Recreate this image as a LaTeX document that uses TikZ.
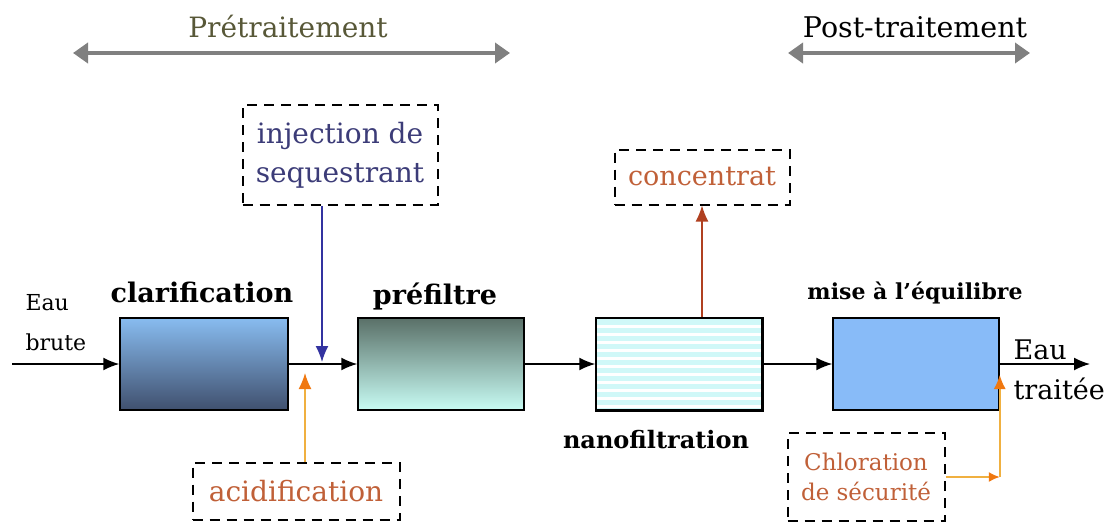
\documentclass[tikz,border=0pt]{standalone}
\usepackage{fontspec}
\setmainfont{DejaVu Serif}
\usetikzlibrary{arrows.meta}
\definecolor{spangray}{RGB}{128,128,128}
\definecolor{oliveink}{RGB}{88,88,56}
\definecolor{navyink}{RGB}{60,60,120}
\definecolor{navyline}{RGB}{51,51,160}
\definecolor{rustink}{RGB}{192,96,56}
\definecolor{orangeline}{RGB}{240,176,64}
\definecolor{orangetip}{RGB}{240,120,16}
\definecolor{redline}{RGB}{176,64,32}
\definecolor{clartop}{RGB}{136,188,240}
\definecolor{clarbot}{RGB}{64,80,110}
\definecolor{preftop}{RGB}{90,112,104}
\definecolor{prefbot}{RGB}{200,252,244}
\definecolor{nanofill}{RGB}{208,248,248}
\definecolor{misefill}{RGB}{136,187,248}

\begin{document}
\begin{tikzpicture}[x=1pt,y=-1pt]
  \tikzstyle{box}=[draw,line width=1.5pt,minimum width=166pt,minimum height=92pt,inner sep=0pt]
  \tikzstyle{flow}=[draw,line width=1.5pt,-{Latex[length=16pt,width=13pt]},black]
  \tikzstyle{title}=[font=\fontsize{27}{30}\selectfont\bfseries]
  \tikzstyle{note}=[draw=black,dash pattern=on 10pt off 7pt,line width=2pt,align=center,inner sep=0pt]
  \tikzstyle{span}=[draw,line width=4pt,spangray,{Triangle[length=15pt,width=20pt]}-{Triangle[length=15pt,width=20pt]}]
  \useasboundingbox (0,0) rectangle (1108,522);

  % phases
  \coordinate (pre1) at (73,53);
  \coordinate (pre2) at (510,53);
  \coordinate (post1) at (788,53);
  \coordinate (post2) at (1030,53);
  \draw[span] (pre1) -- (pre2);
  \draw[span] (post1) -- (post2);
  \node[oliveink,font=\fontsize{28}{30}\selectfont] (tpre) at (288,27) {Prétraitement};
  \node[font=\fontsize{28.5}{30}\selectfont] (tpost) at (915,27) {Post-traitement};

  % process boxes
  \node[box,top color=clartop,bottom color=clarbot,minimum width=168pt] (clar) at (204,364) {};
  \node[box,top color=preftop,bottom color=prefbot] (pref) at (441,364) {};
  \node[box,fill=nanofill] (nano) at (679,364) {};
  \foreach \k in {1,...,11}
    \draw[white,line width=3pt] (597,318+8*\k) -- (761,318+8*\k);
  \draw[line width=1.5pt] (nano.north west) rectangle (nano.south east);
  \node[box,fill=misefill] (mise) at (916,364) {};

  \node[title] (tclar) at (202,292) {clarification};
  \node[title] (tpref) at (435,297) {préfiltre};
  \node[title,font=\fontsize{24}{28}\selectfont\bfseries] (tnano) at (656,440) {nanofiltration};
  \node[title,font=\fontsize{22}{26}\selectfont\bfseries] (tmise) at (915,293) {mise à l’équilibre};

  % in and out
  \coordinate (start) at (12,364);
  \coordinate (out) at (1090,364);
  \node[align=left,anchor=west,font=\fontsize{22}{40}\selectfont] (raw) at (22,323) {Eau\\brute};
  \node[align=left,anchor=west,font=\fontsize{27}{40}\selectfont] (done) at (1010,370) {Eau\\traitée};
  \draw[flow] (start) -- (clar);
  \draw[flow] (clar) -- (pref);
  \draw[flow] (pref) -- (nano);
  \draw[flow] (nano) -- (mise);
  \draw[flow] (mise) -- (out);

  % additions
  \node[note,text=navyink,font=\fontsize{28}{39}\selectfont,minimum width=195pt,minimum height=100pt] (inj) at (340,155) {injection de\\sequestrant};
  \node[note,text=rustink,font=\fontsize{28}{39}\selectfont,minimum width=207pt,minimum height=57pt] (acid) at (296,491) {acidification};
  \node[note,text=rustink,font=\fontsize{27}{39}\selectfont,minimum width=175pt,minimum height=55pt] (conc) at (702,177) {concentrat};
  \node[note,text=rustink,font=\fontsize{23}{30}\selectfont,minimum width=157pt,minimum height=88pt] (chlor) at (866,477) {Chloration\\de sécurité};

  \coordinate (injpt) at (322,362);
  \coordinate (acidpt) at (305,373);
  \coordinate (chlpt) at ([yshift=-11pt]mise.east);
  \draw[navyline,line width=1.5pt,-{Latex[length=16pt,width=13pt]}] (inj.south -| injpt) -- (injpt);
  \draw[orangeline,line width=1.5pt,-{Latex[length=16pt,width=13pt,color=orangetip]}] (acid.north -| acidpt) -- (acidpt);
  \draw[redline,line width=1.5pt,-{Latex[length=16pt,width=13pt]}] (nano.north -| conc.south) -- (conc.south);
  \draw[orangeline,line width=1.5pt,-{Latex[length=11pt,width=10pt,color=orangetip]}] (chlor.east) -- (chlor.east -| mise.east);
  \draw[orangeline,line width=1.5pt,-{Latex[length=14pt,width=12pt,color=orangetip]}] (chlor.east -| mise.east) -- (chlpt);
\end{tikzpicture}
\end{document}
